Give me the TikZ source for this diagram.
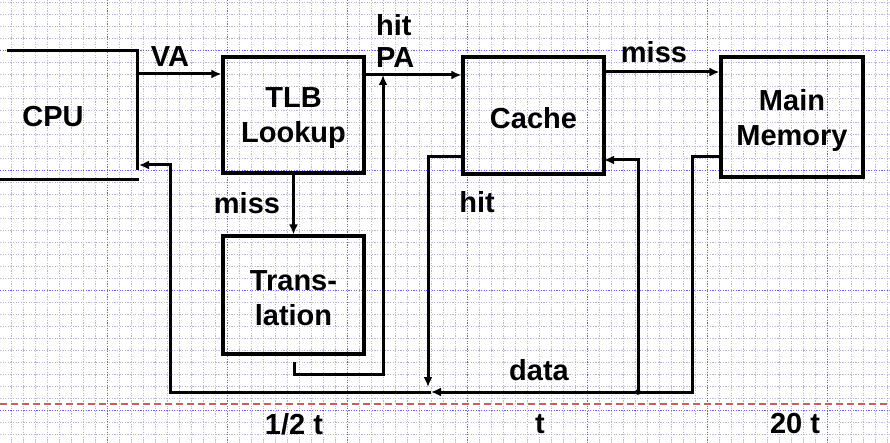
\documentclass[tikz,border=0pt]{standalone}
\usepackage{fontspec}
\setmainfont{Liberation Sans}
\usetikzlibrary{arrows.meta}
\definecolor{gridminor}{RGB}{186,176,236}
\definecolor{gridmajor}{RGB}{100,100,226}
\definecolor{reddash}{RGB}{196,96,96}
\tikzset{
  minorgrid/.style={gridminor, line width=1pt, dash pattern=on 1.2pt off 1.4pt},
  majorgrid/.style={gridmajor, line width=1pt, dash pattern=on 1.2pt off 1.4pt},
  box/.style={draw, line width=3.2pt, inner sep=0pt},
  lbl/.style={inner sep=0pt, align=center, font=\fontsize{29}{35}\selectfont\bfseries},
  wire/.style={line width=3pt},
  arr/.style={line width=3pt, -{Latex[length=10pt,width=9pt]}},
}
\begin{document}
\begin{tikzpicture}[x=1pt,y=-1pt]
\useasboundingbox (0,0) rectangle (890,443);
\fill[white] (0,0) rectangle (890,443);
% grid
\foreach \i in {0,...,73} \draw[minorgrid] ({11.3+12*\i},0) -- ({11.3+12*\i},443);
\foreach \j in {0,...,36} \draw[minorgrid] (0,{2.3+12*\j}) -- (890,{2.3+12*\j});
\foreach \i in {0,...,6} \draw[majorgrid] ({107.3+120*\i},0) -- ({107.3+120*\i},443);
\foreach \j in {0,...,3} \draw[majorgrid] (0,{50.3+120*\j}) -- (890,{50.3+120*\j});
% red dashed line
\draw[reddash, line width=2pt, dash pattern=on 7pt off 4pt] (0,404) -- (890,404);

% CPU
\draw[wire] (7,51) -- (137,51) -- (137,170);
\draw[wire] (0,180) -- (139,180);
\node[lbl] (cpu) at (53,117) {CPU};

% boxes
\node[box, minimum width=141pt, minimum height=116pt,
  label={[lbl, yshift=-3.5pt]center:TLB\\Lookup}] (tlb) at (293.5,115) {};
\node[box, minimum width=141pt, minimum height=118pt,
  label={[lbl, yshift=-3.5pt]center:Trans-\\lation}] (trans) at (293.5,295) {};
\node[box, minimum width=141pt, minimum height=117pt,
  label={[lbl, yshift=-3pt]center:Cache}] (cache) at (533.5,115.5) {};
\node[box, minimum width=142pt, minimum height=120pt,
  label={[lbl, yshift=-3.5pt]center:Main\\Memory}] (mm) at (792,117) {};

% coordinates
\coordinate (cpuva) at (137,74);
\coordinate (pa) at (364,75);
\coordinate (tr1) at (294,362);
\coordinate (tr2) at (383,374);
\coordinate (tr3) at (383,75);
\coordinate (cm) at (604,72);
\coordinate (ch) at (463,157);
\coordinate (chd) at (428,387);
\coordinate (md) at (721,157);
\coordinate (mdc) at (692,392);
\coordinate (dl) at (431,392);
\coordinate (dc) at (170,392);
\coordinate (cpuret) at (139,165);
\coordinate (dot) at (638,392);
\coordinate (cf) at (604,160);

% connectors
\draw[arr] (cpuva) -- (cpuva -| tlb.west);
\draw[arr] (pa) -- (pa -| cache.west);
\draw[arr] (tlb.south) -- (trans.north);
\draw[arr] (tr1) |- (tr2) -- (tr3);
\draw[arr] (cm) -- (cm -| mm.west);
\draw[arr] (ch) -| (chd);
\draw[arr] (md) -| (mdc) -- (dl);
\draw[arr] (dl) -- (dc) |- (cpuret);
\fill (dot) circle (2.8pt);
\draw[arr] (dot) |- (cf);

% labels
\node[lbl] (va) at (170,57) {VA};
\node[lbl, align=left, anchor=west, font=\fontsize{29}{32}\selectfont\bfseries] (hitpa) at (376,41) {hit\\PA};
\node[lbl] (miss1) at (247,203) {miss};
\node[lbl] (miss2) at (654,52) {miss};
\node[lbl] (hit2) at (477,202) {hit};
\node[lbl] (data) at (539,370) {data};
\node[lbl] (t1) at (294,424) {1/2 t};
\node[lbl] (t2) at (540,424) {t};
\node[lbl] (t3) at (795,424) {20 t};
\end{tikzpicture}
\end{document}
